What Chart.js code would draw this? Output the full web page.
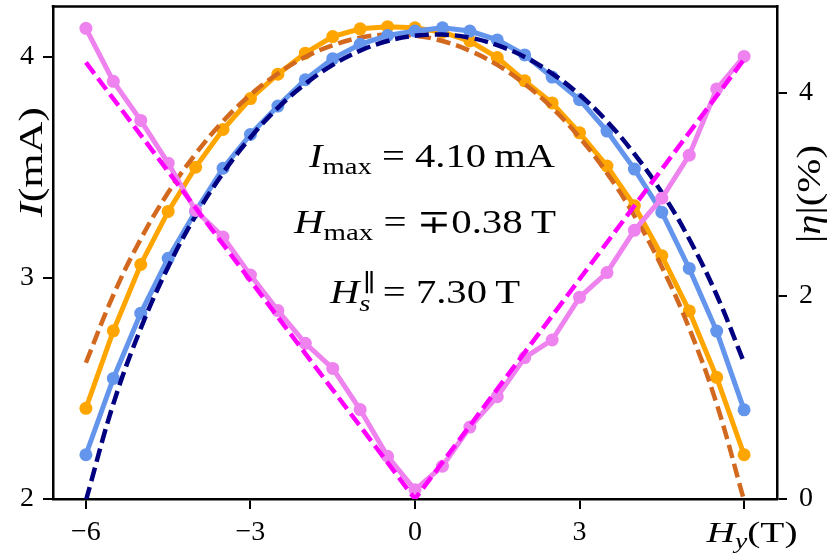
<!DOCTYPE html>
<html>
<head>
<meta charset="utf-8">
<script src="https://cdn.jsdelivr.net/npm/chart.js@4.4.1/dist/chart.umd.min.js"></script>
<style>
    html, body { margin: 0; padding: 0; background: #fff; }
    #wrap { width: 830px; height: 553px; }
</style>
</head>
<body>
<div id="wrap"><canvas id="chart" width="830" height="553"></canvas></div>
<script>
// Field values (T), one every 0.5 T
const fieldH = [-6, -5.5, -5, -4.5, -4, -3.5, -3, -2.5, -2, -1.5, -1, -0.5, 0,
    0.5, 1, 1.5, 2, 2.5, 3, 3.5, 4, 4.5, 5, 5.5, 6];

// Measured currents (mA)
const currentNeg = [2.41, 2.76, 3.06, 3.30, 3.50, 3.67, 3.81, 3.92, 4.015, 4.09, 4.125, 4.135, 4.13,
    4.11, 4.07, 3.995, 3.89, 3.79, 3.655, 3.505, 3.325, 3.10, 2.85, 2.55, 2.20];
const currentPos = [2.20, 2.545, 2.84, 3.088, 3.30, 3.495, 3.648, 3.776, 3.895, 3.99, 4.055, 4.095, 4.115,
    4.13, 4.115, 4.075, 4.007, 3.907, 3.805, 3.663, 3.491, 3.296, 3.042, 2.759, 2.403];

// Fitted curves (mA)
const fitNeg = [2.616, 2.922, 3.175, 3.385, 3.560, 3.707, 3.827, 3.923, 3.998, 4.051, 4.085, 4.099, 4.094,
    4.070, 4.026, 3.962, 3.876, 3.768, 3.634, 3.473, 3.280, 3.049, 2.771, 2.430, 1.993];
const fitPos = [1.993, 2.430, 2.771, 3.049, 3.280, 3.473, 3.634, 3.768, 3.876, 3.962, 4.026, 4.070, 4.094,
    4.099, 4.085, 4.051, 3.998, 3.923, 3.827, 3.707, 3.560, 3.385, 3.175, 2.922, 2.616];

// Asymmetry |eta| (%)
const etaData = [4.635, 4.113, 3.728, 3.307, 2.841, 2.58, 2.205, 1.856, 1.533, 1.286, 0.881, 0.421, 0.09,
    0.323, 0.708, 1.008, 1.393, 1.566, 1.986, 2.23, 2.646, 2.962, 3.386, 4.038, 4.358];
const etaFitH = [-6, 0, 6];
const etaFit = [4.30, 0, 4.33];

// Axis ticks
const xTicks = [-6, -3, 0, 3, 6];
const yTicksI = [2, 3, 4];
const yTicksEta = [0, 2, 4];

const SERIF = "'Liberation Serif', 'DejaVu Serif', serif";

const pts = (xs, ys) => xs.map((x, i) => ({ x: x, y: ys[i] }));

function dataLine(label, color, ys, axis, order) {
    return {
        label: label, data: pts(fieldH, ys), yAxisID: axis, order: order,
        borderColor: color, backgroundColor: color, borderWidth: 5,
        pointRadius: 6.5, pointBorderWidth: 0, pointHoverRadius: 6.5, tension: 0
    };
}
function fitLine(label, color, xs, ys, axis, order, tension) {
    return {
        label: label, data: pts(xs, ys), yAxisID: axis, order: order,
        borderColor: color, borderWidth: 4.5, borderDash: [14, 6],
        pointRadius: 0, pointHoverRadius: 0, tension: tension
    };
}

// Draws a run of text pieces (italic / sub / superscript) side by side,
// stretched sideways to the given width
function drawRich(ctx, parts, x, y, align, width) {
    let total = 0, prevW = 0;
    parts.forEach(p => {
        ctx.font = (p.it ? 'italic ' : '') + p.sz + 'px ' + SERIF;
        p.w = ctx.measureText(p.t).width;
        p.adv = p.stack ? Math.max(0, p.w - prevW) : p.w;
        total += p.adv;
        prevW = p.w;
    });
    const sx = width ? width / total : 1;
    ctx.save();
    ctx.translate(align === 'center' ? x - total * sx / 2 : x, y);
    ctx.scale(sx, 1);
    let cx = 0, lastX = 0;
    parts.forEach(p => {
        ctx.font = (p.it ? 'italic ' : '') + p.sz + 'px ' + SERIF;
        const px = p.stack ? lastX + (p.dx || 0) : cx;
        ctx.fillText(p.t, px, p.dy || 0);
        if (!p.stack) lastX = cx;
        cx += p.adv;
    });
    ctx.restore();
}

const textPlugin = {
    id: 'textPlugin',
    afterDraw(chart) {
        const ctx = chart.ctx;
        const a = chart.chartArea;
        ctx.save();
        // top spine
        ctx.strokeStyle = '#000';
        ctx.lineWidth = 2.5;
        ctx.beginPath();
        ctx.moveTo(a.left - 1.25, a.top);
        ctx.lineTo(a.right + 1.25, a.top);
        ctx.stroke();

        ctx.fillStyle = '#000';
        ctx.textAlign = 'left';
        ctx.textBaseline = 'alphabetic';

        // annotations
        drawRich(ctx, [
            { t: 'I', it: true, sz: 34 },
            { t: 'max', sz: 24, dy: 7 },
            { t: ' = 4.10\u2009mA', sz: 34 }
        ], 432, 167, 'center', 246);
        drawRich(ctx, [
            { t: 'H', it: true, sz: 34 },
            { t: 'max', sz: 24, dy: 7 },
            { t: ' = \u22130.38\u2009T', sz: 34 }
        ], 425, 233, 'center', 262);
        drawRich(ctx, [
            { t: 'H', it: true, sz: 34 },
            { t: 's', it: true, sz: 24, dy: 8 },
            { t: '\u2225', sz: 24, dy: -12, dx: 3, stack: true },
            { t: ' = 7.30\u2009T', sz: 34 }
        ], 425, 303, 'center', 190);

        // x axis label sitting at the last tick
        drawRich(ctx, [
            { t: 'H', it: true, sz: 30 },
            { t: 'y', it: true, sz: 21, dy: 6 },
            { t: '(T)', sz: 30 }
        ], 752, 542, 'center', 91);

        // left y label
        ctx.save();
        ctx.translate(42, 162);
        ctx.rotate(-Math.PI / 2);
        drawRich(ctx, [
            { t: 'I', it: true, sz: 33 },
            { t: '(mA)', sz: 33 }
        ], 0, 0, 'center', 110);
        ctx.restore();

        // right y label
        ctx.save();
        ctx.translate(820, 194);
        ctx.rotate(-Math.PI / 2);
        drawRich(ctx, [
            { t: '|', sz: 33 },
            { t: '\u03b7', it: true, sz: 33 },
            { t: '|(%)', sz: 33 }
        ], 0, 0, 'center', 98);
        ctx.restore();
        ctx.restore();
    }
};

const tickFont = { family: SERIF, size: 28 };
const minus = v => (v < 0 ? '\u2212' + Math.abs(v) : String(v));
const noPad = s => { s.paddingTop = 0; s.paddingBottom = 0; s.paddingLeft = 0; s.paddingRight = 0; };

new Chart(document.getElementById('chart'), {
    type: 'line',
    data: {
        datasets: [
            dataLine('I (-H)', '#FFA500', currentNeg, 'yI', 6),
            fitLine('fit (-H)', '#D2691E', fieldH, fitNeg, 'yI', 5, 0.4),
            dataLine('I (+H)', '#6495ED', currentPos, 'yI', 4),
            fitLine('fit (+H)', '#000080', fieldH, fitPos, 'yI', 3, 0.4),
            dataLine('|eta|', '#EE82EE', etaData, 'yEta', 2),
            fitLine('|eta| fit', '#FF00FF', etaFitH, etaFit, 'yEta', 1, 0)
        ]
    },
    options: {
        responsive: false,
        animation: false,
        devicePixelRatio: 1,
        layout: { padding: { top: 3, left: 0, right: 0, bottom: 0 } },
        plugins: { legend: { display: false }, tooltip: { enabled: false } },
        scales: {
            x: {
                type: 'linear', position: 'bottom', min: -6.6, max: 6.6,
                afterBuildTicks: s => { s.ticks = xTicks.map(v => ({ value: v })); },
                afterFit: s => { s.height = 54; noPad(s); },
                grid: { drawOnChartArea: false, tickLength: 10, color: '#000', lineWidth: 2 },
                border: { display: true, color: '#000', width: 2.5 },
                ticks: {
                    font: tickFont, color: '#000', padding: 7, maxRotation: 0,
                    callback: v => (v === 6 ? '' : minus(v))
                }
            },
            yI: {
                type: 'linear', position: 'left', min: 2, max: 4.226,
                afterBuildTicks: s => { s.ticks = yTicksI.map(v => ({ value: v })); },
                afterFit: s => { s.width = 53; noPad(s); },
                grid: { drawOnChartArea: false, tickLength: 10, color: '#000', lineWidth: 2 },
                border: { display: true, color: '#000', width: 2.5 },
                ticks: { font: tickFont, color: '#000', padding: 9 }
            },
            yEta: {
                type: 'linear', position: 'right', min: 0, max: 4.85,
                afterBuildTicks: s => { s.ticks = yTicksEta.map(v => ({ value: v })); },
                afterFit: s => { s.width = 53; noPad(s); },
                grid: { drawOnChartArea: false, tickLength: 10, color: '#000', lineWidth: 2 },
                border: { display: true, color: '#000', width: 2.5 },
                ticks: { font: tickFont, color: '#000', padding: 12 }
            }
        }
    },
    plugins: [textPlugin]
});
</script>
</body>
</html>
